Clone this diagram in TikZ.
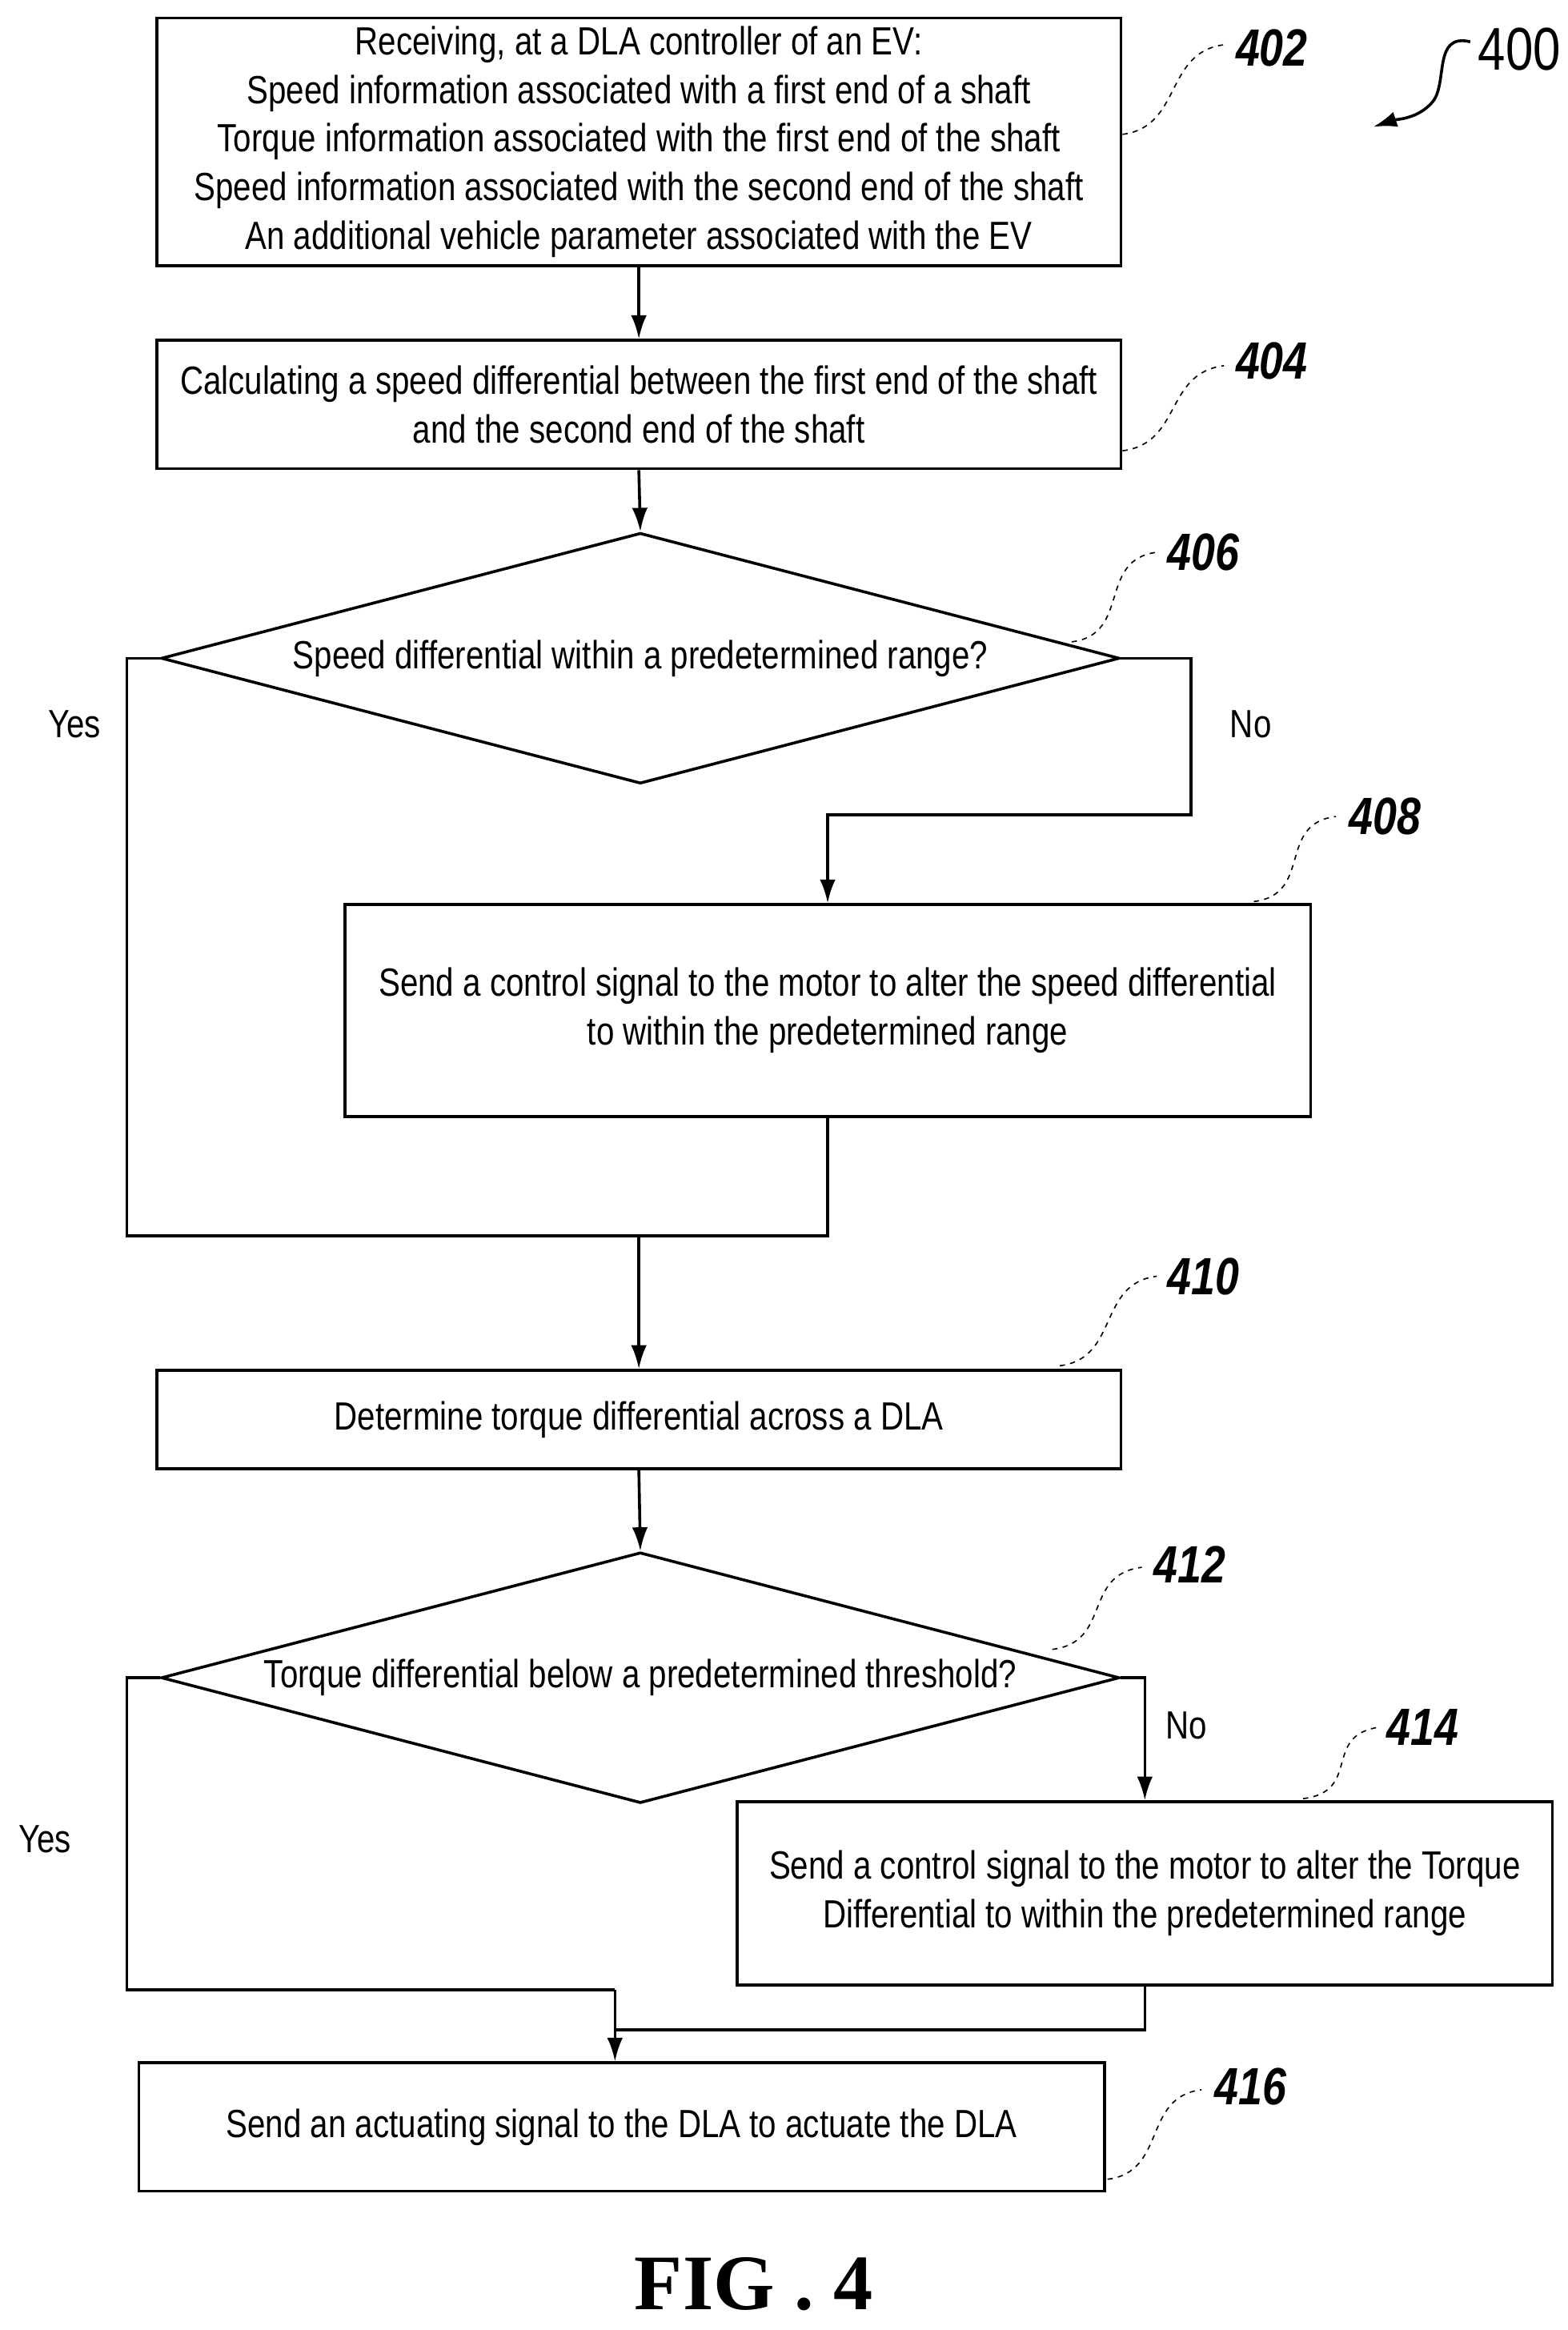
\documentclass[tikz,border=0pt]{standalone}
\usepackage{fontspec}
\setmainfont{Liberation Sans}[FakeStretch=0.82]
\newfontfamily\figfont{Liberation Serif}
\usetikzlibrary{shapes.geometric,arrows.meta}
\begin{document}
\begin{tikzpicture}[x=0.02cm,y=-0.02cm,
    box/.style={draw,line width=1.1pt,inner sep=0pt,align=center,font=\fontsize{15}{18.5}\selectfont},
    ref/.style={font=\fontsize{20}{22}\selectfont\bfseries\itshape},
    lead/.style={dashed,line width=0.5pt,dash pattern=on 2pt off 2pt},
    flow/.style={line width=1.1pt,-{Latex[length=9pt,width=6pt]}},
    wire/.style={line width=1.1pt},
    lbl/.style={font=\fontsize{15}{18}\selectfont}]
  \useasboundingbox (0,0) rectangle (1050,1561);
  % boxes
  \node[box,minimum width=646*0.02cm,minimum height=166*0.02cm] (b402) at (428,95)
    {Receiving, at a DLA controller of an EV:\\Speed information associated with a first end of a shaft\\
     Torque information associated with the first end of the shaft\\Speed information associated with the second end of the shaft\\
     An additional vehicle parameter associated with the EV};
  \node[box,minimum width=646*0.02cm,minimum height=86*0.02cm] (b404) at (428,271)
    {Calculating a speed differential between the first end of the shaft\\and the second end of the shaft};
  \node[box,diamond,aspect=3.82,minimum width=642*0.02cm,minimum height=168*0.02cm,inner sep=0pt] (d406) at (429,441)
    {Speed differential within a predetermined range?};
  \node[box,minimum width=647*0.02cm,minimum height=142*0.02cm] (b408) at (554.5,677)
    {Send a control signal to the motor to alter the speed differential\\to within the predetermined range};
  \node[box,minimum width=646*0.02cm,minimum height=66*0.02cm] (b410) at (428,951)
    {Determine torque differential across a DLA};
  \node[box,diamond,aspect=3.82,minimum width=642*0.02cm,minimum height=168*0.02cm,inner sep=0pt] (d412) at (429,1124)
    {Torque differential below a predetermined threshold?};
  \node[box,minimum width=546*0.02cm,minimum height=123*0.02cm] (b414) at (767,1268.5)
    {Send a control signal to the motor to alter the Torque\\Differential to within the predetermined range};
  \node[box,minimum width=647*0.02cm,minimum height=86*0.02cm] (b416) at (416.5,1425)
    {Send an actuating signal to the DLA to actuate the DLA};
  % junctions
  \coordinate (j1) at (85,828);
  \coordinate (j2) at (428,828);
  \coordinate (j3) at (798,546);
  \coordinate (j4) at (85,1333);
  \coordinate (j5) at (412,1333);
  \coordinate (j6) at (412,1360);
  % connectors
  \draw[flow] (b402.south) -- (b404.north);
  \draw[flow] (b404.south) -- (d406.north);
  \draw[wire] (d406.west) -| (j1) -- (j2);
  \draw[wire] (b408.south) |- (j2);
  \draw[flow] (d406.east) -| (j3) -| (b408.north);
  \draw[flow] (j2) -- (b410.north);
  \draw[flow] (b410.south) -- (d412.north);
  \draw[wire] (d412.west) -| (j4) -- (j5);
  \draw[flow] (d412.east) -| (b414.north);
  \draw[wire] (b414.south) |- (j6);
  \draw[flow] (j5) -- (b416.north -| j5);
  \node[lbl] (y1) at (50,485) {Yes};
  \node[lbl] (n1) at (838,485) {No};
  \node[lbl] (y2) at (30,1232) {Yes};
  \node[lbl] (n2) at (795,1156) {No};
  % reference numerals
  \foreach \n/\x/\y/\ax/\ay/\bx/\by in {402/852/32/752/90/820/30, 404/852/242/752/302/820/245,
      406/806/370/718/430/775/370, 408/928/547/840/604/895/547, 410/806/855/710/915/775/855,
      412/797/1048/705/1105/765/1050, 414/953/1157/873/1205/925/1157, 416/838/1398/742/1460/805/1400}{
    \node[ref] (r\n) at (\x,\y) {\n};
    \draw[lead] (\ax,\ay) .. controls ({\ax+40},{\ay-5}) and ({\bx-40},{\by+5}) .. (\bx,\by);
  }
  \node[font=\fontsize{23}{24}\selectfont] (r400) at (1018,33) {400};
  \draw[line width=1.1pt,-{Latex[length=9pt,width=6pt]}] (985,28) .. controls (960,22) and (970,55) .. (960,68) .. controls (950,80) and (935,80) .. (920,85);
  \node[font=\fontsize{30}{32}\selectfont\figfont\bfseries] (fig) at (505,1530) {FIG . 4};
\end{tikzpicture}
\end{document}
